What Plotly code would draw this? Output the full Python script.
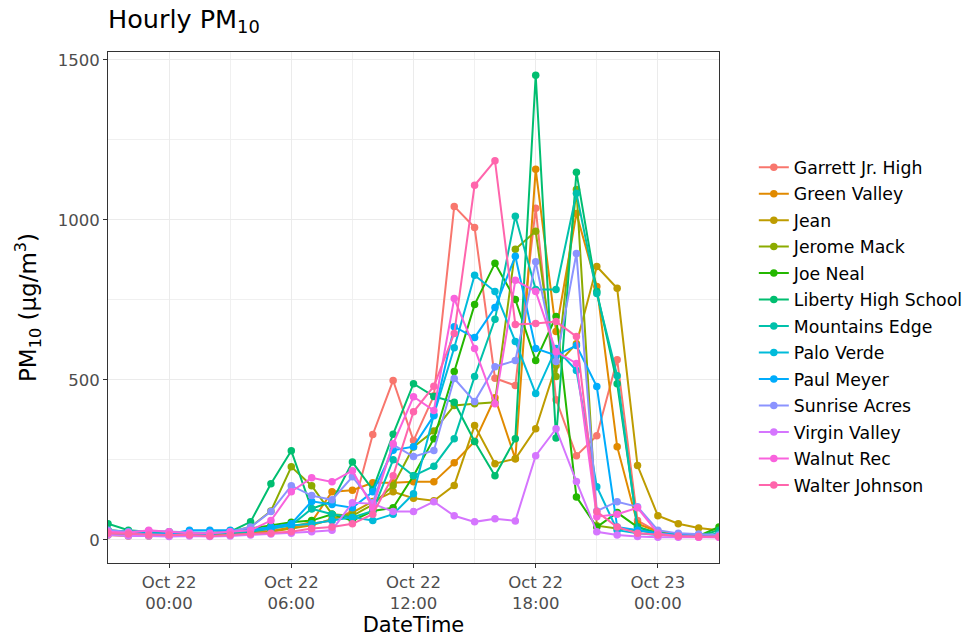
import pandas as pd
import plotly.graph_objects as go

# Hourly timestamps, Oct 21 21:00 -> Oct 23 03:00
hours = pd.date_range("2021-10-21 21:00", "2021-10-23 03:00", freq="h")

stations = ["Garrett Jr. High", "Green Valley", "Jean", "Jerome Mack", "Joe Neal",
            "Liberty High School", "Mountains Edge", "Palo Verde", "Paul Meyer",
            "Sunrise Acres", "Virgin Valley", "Walnut Rec", "Walter Johnson"]

garrett = [25, 20, 22, 20, 18, 20, 22, 25, 30, 35, 50, 60, 90, 329, 498, 310, 450, 1042, 976, 505, 482, 1036, 438, 263, 325, 563, 60, 25, 18, 15, 12]
green_valley = [15, 12, 15, 12, 14, 15, 18, 20, 25, 40, 56, 150, 155, 178, 178, 181, 181, 241, 307, 444, 253, 1158, 651, 1020, 792, 291, 50, 25, 15, 12, 10]
jean = [20, 15, 12, 15, 15, 14, 18, 20, 25, 35, 45, 65, 85, 120, 150, 130, 122, 170, 357, 238, 253, 347, 545, 613, 854, 786, 232, 75, 50, 37, 30]
jerome_mack = [30, 25, 20, 22, 20, 18, 25, 40, 90, 228, 169, 80, 75, 110, 170, 290, 340, 420, 425, 430, 908, 964, 510, 1095, 44, 35, 30, 20, 15, 12, 12]
joe_neal = [25, 20, 18, 20, 18, 20, 25, 35, 45, 55, 60, 80, 60, 90, 100, 200, 316, 526, 735, 864, 751, 560, 698, 134, 40, 85, 40, 20, 15, 12, 40]
liberty = [50, 30, 25, 25, 22, 22, 25, 56, 175, 278, 97, 120, 243, 157, 330, 488, 448, 430, 307, 200, 316, 1452, 318, 1149, 776, 488, 40, 20, 15, 12, 30]
mountains_edge = [30, 25, 22, 20, 20, 18, 20, 25, 35, 45, 97, 80, 70, 90, 250, 200, 230, 316, 510, 689, 1011, 782, 782, 1083, 770, 513, 30, 20, 15, 12, 20]
palo_verde = [20, 18, 15, 15, 15, 15, 30, 30, 35, 45, 50, 60, 70, 60, 80, 144, 391, 600, 827, 776, 620, 457, 598, 529, 166, 30, 20, 15, 12, 10, 10]
paul_meyer = [22, 20, 18, 18, 30, 30, 28, 30, 40, 50, 120, 110, 100, 150, 280, 291, 388, 666, 632, 726, 886, 598, 576, 607, 479, 40, 30, 20, 15, 12, 10]
sunrise = [30, 25, 28, 25, 22, 20, 25, 40, 88, 169, 138, 125, 197, 116, 297, 260, 279, 504, 432, 541, 560, 869, 557, 895, 90, 119, 103, 30, 20, 18, 15]
virgin_valley = [15, 12, 12, 10, 12, 10, 12, 15, 18, 20, 25, 30, 116, 113, 88, 88, 119, 75, 56, 66, 59, 263, 347, 182, 25, 15, 10, 8, 8, 8, 8]
walnut_rec = [25, 22, 30, 25, 20, 20, 25, 30, 60, 150, 194, 181, 216, 100, 300, 447, 404, 754, 598, 425, 811, 776, 588, 551, 72, 80, 100, 20, 10, 8, 8]
walter_johnson = [20, 18, 15, 15, 15, 12, 15, 18, 20, 25, 35, 40, 50, 80, 200, 400, 480, 645, 1108, 1185, 673, 676, 682, 635, 88, 40, 20, 15, 12, 10, 10]

series = [garrett, green_valley, jean, jerome_mack, joe_neal, liberty, mountains_edge,
          palo_verde, paul_meyer, sunrise, virgin_valley, walnut_rec, walter_johnson]

colors = ["#F8766D", "#E18A00", "#BE9C00", "#8CAB00", "#24B700", "#00BE70", "#00C1AB",
          "#00BBDA", "#00ACFC", "#8B93FF", "#D575FE", "#F962DD", "#FF65AC"]

x_tickvals = ["2021-10-22 00:00", "2021-10-22 06:00", "2021-10-22 12:00",
              "2021-10-22 18:00", "2021-10-23 00:00"]
x_ticktext = ["Oct 22<br>00:00", "Oct 22<br>06:00", "Oct 22<br>12:00",
              "Oct 22<br>18:00", "Oct 23<br>00:00"]
x_minor = ["2021-10-21 21:00", "2021-10-22 03:00", "2021-10-22 09:00",
           "2021-10-22 15:00", "2021-10-22 21:00", "2021-10-23 03:00"]
y_tickvals = [0, 500, 1000, 1500]
y_minor = [250, 750, 1250]

FONT = "DejaVu Sans, Arial, sans-serif"

fig = go.Figure()
for name, vals, col in zip(stations, series, colors):
    fig.add_trace(go.Scatter(
        x=hours, y=vals, name=name, legendgroup=name, mode="lines+markers",
        line=dict(color=col, width=2),
        marker=dict(color=col, size=7.5),
    ))

fig.update_layout(
    width=967, height=642,
    margin=dict(l=108, r=248, t=52, b=79, autoexpand=False),
    paper_bgcolor="white", plot_bgcolor="white",
    font=dict(family=FONT, color="black"),
    title=dict(text="Hourly PM<sub>10</sub>", x=108/967, xanchor="left",
               y=0.984, yanchor="top", font=dict(size=25.5, color="black")),
    legend=dict(x=1.057, xanchor="left", y=0.463, yanchor="middle",
                font=dict(size=17.3, color="black"), bgcolor="rgba(0,0,0,0)",
                itemwidth=30, tracegroupgap=1),
    showlegend=True,
)

fig.update_xaxes(
    type="date", automargin=False,
    range=["2021-10-21 21:00", "2021-10-23 03:00"],
    tickmode="array", tickvals=x_tickvals, ticktext=x_ticktext,
    tickfont=dict(size=16.5, color="#4D4D4D"),
    ticks="outside", ticklen=4, tickcolor="#333333", tickwidth=1,
    showgrid=True, gridcolor="#EBEBEB", gridwidth=1.2,
    minor=dict(tickmode="array", tickvals=x_minor, showgrid=True,
               gridcolor="#F0F0F0", gridwidth=0.7, ticks=""),
    showline=True, linecolor="#333333", linewidth=1, mirror=True,
    zeroline=False,
    title=dict(text="DateTime", font=dict(size=21, color="black"), standoff=4),
)
fig.update_yaxes(
    automargin=False,
    range=[-72.6, 1524.6],
    tickmode="array", tickvals=y_tickvals, ticktext=[str(v) for v in y_tickvals],
    tickfont=dict(size=16.5, color="#4D4D4D"),
    ticks="outside", ticklen=4, tickcolor="#333333", tickwidth=1,
    showgrid=True, gridcolor="#EBEBEB", gridwidth=1.2,
    minor=dict(tickmode="array", tickvals=y_minor, showgrid=True,
               gridcolor="#F0F0F0", gridwidth=0.7, ticks=""),
    showline=True, linecolor="#333333", linewidth=1, mirror=True,
    zeroline=False,
    title=dict(text="PM<sub>10</sub> (μg/m<sup>3</sup>)", font=dict(size=23, color="black"), standoff=14),
)

fig.write_html("out.html", config={"displayModeBar": False},
               post_script="document.body.style.margin='0';")
